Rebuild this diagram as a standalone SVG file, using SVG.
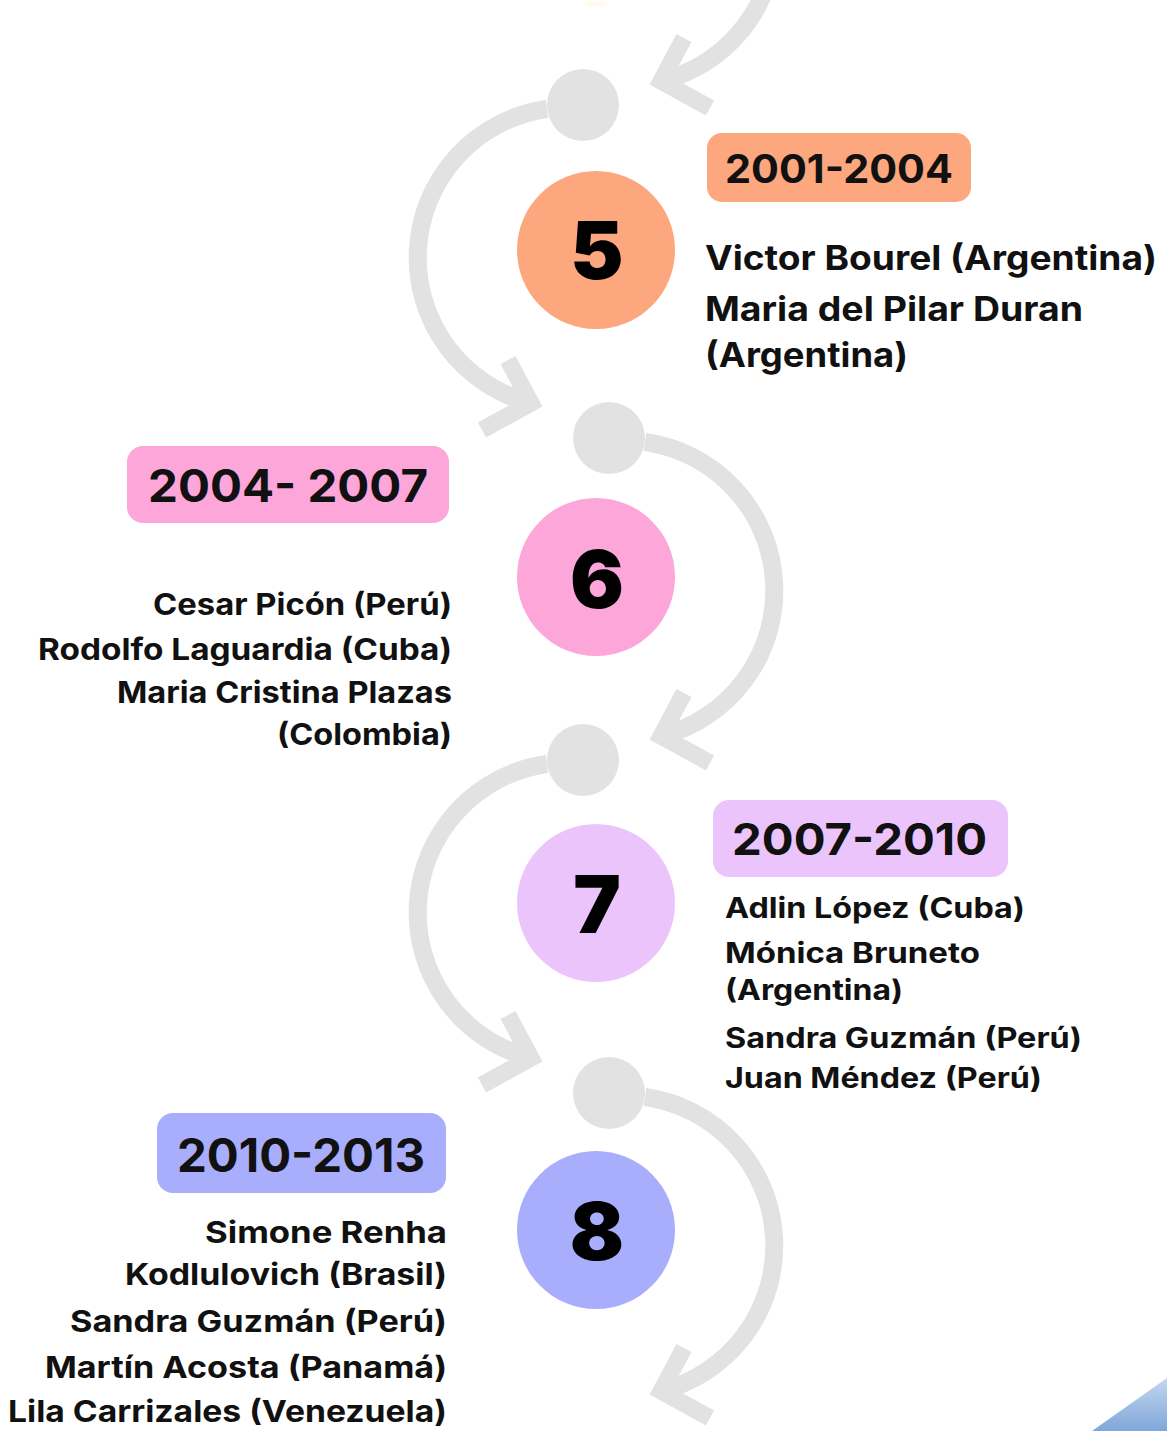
<svg xmlns="http://www.w3.org/2000/svg" width="1167" height="1431" viewBox="0 0 1167 1431">
<defs>
<style>
.arc{fill:none;stroke:#e2e2e2;stroke-width:18}
.head{fill:none;stroke:#e2e2e2;stroke-width:17;stroke-linejoin:miter;stroke-linecap:butt}
.dot{fill:#e2e2e2}
.t{font-family:Inter,"Open Sans","DejaVu Sans",sans-serif;font-weight:700;fill:#111}
.num{font-family:Inter,"Open Sans","DejaVu Sans",sans-serif;font-weight:900;fill:#000;font-size:80px;text-anchor:middle}
</style>
<linearGradient id="corner" x1="0" y1="0" x2="0" y2="1">
<stop offset="0" stop-color="#c3d7ef"/>
<stop offset="1" stop-color="#80a7d9"/>
</linearGradient>
</defs>
<rect width="1167" height="1431" fill="#ffffff"/>
<ellipse cx="596" cy="4" rx="11" ry="2.5" fill="#fff8d8" opacity="0.6"/>
<g id="connectors">
<path class="arc" d="M 765,-10 A 150 150 0 0 1 661,81"/>
<polyline class="head" points="684,38 661,81 710,108"/>
<path class="arc" d="M 547,109 A 150 150 0 0 0 531,403"/>
<polyline class="head" points="508,360 531,403 482,430"/>
<path class="arc" d="M 645,442 A 150 150 0 0 1 661,736"/>
<polyline class="head" points="684,693 661,736 710,763"/>
<path class="arc" d="M 547,764 A 150 150 0 0 0 531,1058"/>
<polyline class="head" points="508,1015 531,1058 482,1085"/>
<path class="arc" d="M 645,1097 A 150 150 0 0 1 661,1391"/>
<polyline class="head" points="684,1348 661,1391 710,1418"/>
<circle class="dot" cx="583" cy="105" r="36"/>
<circle class="dot" cx="609" cy="438" r="36"/>
<circle class="dot" cx="583" cy="760" r="36"/>
<circle class="dot" cx="609" cy="1093" r="36"/>
</g>
<g id="node5">
<circle cx="596" cy="250" r="79" fill="#fca77d"/>
<text class="num" x="597" y="279">5</text>
<rect x="707" y="133" width="264" height="69" rx="15" fill="#fca77d"/>
<text class="t" x="725" y="183" font-size="39" textLength="228" lengthAdjust="spacingAndGlyphs">2001-2004</text>
<text class="t" x="705" y="270" font-size="34" textLength="452" lengthAdjust="spacingAndGlyphs">Victor Bourel (Argentina)</text>
<text class="t" x="705" y="321" font-size="34" textLength="378" lengthAdjust="spacingAndGlyphs">Maria del Pilar Duran</text>
<text class="t" x="705" y="367" font-size="34" textLength="203" lengthAdjust="spacingAndGlyphs">(Argentina)</text>
</g>
<g id="node6">
<circle cx="596" cy="577" r="79" fill="#fca6da"/>
<text class="num" x="597" y="608">6</text>
<rect x="127" y="446" width="322" height="77" rx="16" fill="#fca6da"/>
<text class="t" x="148" y="502" font-size="45" textLength="280" lengthAdjust="spacingAndGlyphs">2004- 2007</text>
<text class="t" x="153" y="615" font-size="30" textLength="299" lengthAdjust="spacingAndGlyphs">Cesar Picón (Perú)</text>
<text class="t" x="38" y="660" font-size="30" textLength="414" lengthAdjust="spacingAndGlyphs">Rodolfo Laguardia (Cuba)</text>
<text class="t" x="117" y="703" font-size="30" textLength="335" lengthAdjust="spacingAndGlyphs">Maria Cristina Plazas</text>
<text class="t" x="277" y="745" font-size="30" textLength="175" lengthAdjust="spacingAndGlyphs">(Colombia)</text>
</g>
<g id="node7">
<circle cx="596" cy="903" r="79" fill="#ecc4fc"/>
<text class="num" x="597" y="933">7</text>
<rect x="713" y="800" width="295" height="77" rx="16" fill="#ecc4fc"/>
<text class="t" x="732" y="855" font-size="44" textLength="255" lengthAdjust="spacingAndGlyphs">2007-2010</text>
<text class="t" x="725" y="918" font-size="28" textLength="300" lengthAdjust="spacingAndGlyphs">Adlin López (Cuba)</text>
<text class="t" x="725" y="963" font-size="28" textLength="255" lengthAdjust="spacingAndGlyphs">Mónica Bruneto</text>
<text class="t" x="725" y="1000" font-size="28" textLength="178" lengthAdjust="spacingAndGlyphs">(Argentina)</text>
<text class="t" x="725" y="1048" font-size="28" textLength="357" lengthAdjust="spacingAndGlyphs">Sandra Guzmán (Perú)</text>
<text class="t" x="725" y="1088" font-size="28" textLength="317" lengthAdjust="spacingAndGlyphs">Juan Méndez (Perú)</text>
</g>
<g id="node8">
<circle cx="596" cy="1230" r="79" fill="#a8adfc"/>
<text class="num" x="597" y="1260">8</text>
<rect x="157" y="1113" width="289" height="80" rx="16" fill="#a8adfc"/>
<text class="t" x="177" y="1172" font-size="47" textLength="248" lengthAdjust="spacingAndGlyphs">2010-2013</text>
<text class="t" x="205" y="1243" font-size="30" textLength="242" lengthAdjust="spacingAndGlyphs">Simone Renha</text>
<text class="t" x="125" y="1285" font-size="30" textLength="322" lengthAdjust="spacingAndGlyphs">Kodlulovich (Brasil)</text>
<text class="t" x="70" y="1332" font-size="30" textLength="377" lengthAdjust="spacingAndGlyphs">Sandra Guzmán (Perú)</text>
<text class="t" x="45" y="1378" font-size="30" textLength="402" lengthAdjust="spacingAndGlyphs">Martín Acosta (Panamá)</text>
<text class="t" x="8" y="1422" font-size="30" textLength="439" lengthAdjust="spacingAndGlyphs">Lila Carrizales (Venezuela)</text>
</g>
<polygon points="1092,1431 1167,1378 1167,1431" fill="url(#corner)"/>
</svg>
